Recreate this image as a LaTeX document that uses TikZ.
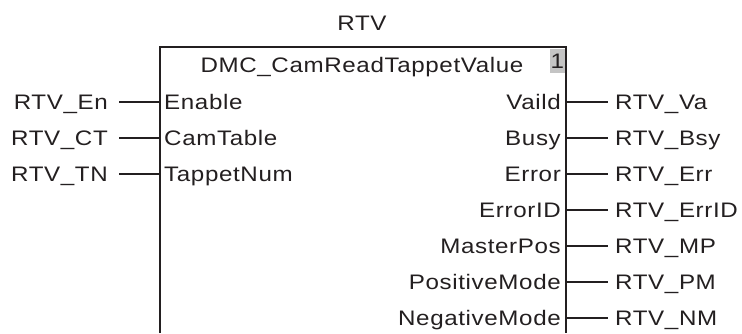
\documentclass[tikz,border=0pt]{standalone}
\usepackage{fontspec}
\setmainfont{Liberation Sans}[FakeStretch=1.15, LetterSpace=3]
\definecolor{ink}{HTML}{231F20}
\definecolor{tag}{HTML}{C4C4C4}
\begin{document}
\begin{tikzpicture}[x=1pt,y=-1pt,
  font=\fontsize{21}{25}\selectfont,
  txt/.style={inner sep=0pt, text=ink},
  wire/.style={line width=1.3pt, draw=ink},
  frame/.style={line width=1.6pt, draw=ink}]
\useasboundingbox (0,0) rectangle (742,333);
% title
\node[txt, anchor=base] (title) at (362,30) {RTV};
% block frame (open at bottom)
\coordinate (bl) at (160,333);
\coordinate (tl) at (160,47);
\coordinate (tr) at (566,47);
\coordinate (br) at (566,333);
\draw[frame] (bl) -- (tl) -- (tr) -- (br);
\node[txt, fill=tag, minimum width=15pt, minimum height=24pt, anchor=north east] (inst) at (565,49) {1};
\node[txt, anchor=base] (fb) at (362,72.7) {DMC\_CamReadTappetValue};
% inputs
\foreach \i/\p/\v in {0/Enable/RTV\_En, 1/CamTable/RTV\_CT, 2/TappetNum/RTV\_TN}{
  \pgfmathsetmacro\yy{102+36*\i}
  \coordinate (L\i) at (160,\yy);
  \node[txt, anchor=base west] (pin\i) at (164,\yy+7.5) {\p};
  \node[txt, anchor=base east] (var\i) at (108,\yy+7.5) {\v};
  \draw[wire] ([xshift=11pt]var\i.east |- L\i) -- (L\i);
}
% outputs
\foreach \i/\p/\v in {0/Vaild/RTV\_Va, 1/Busy/RTV\_Bsy, 2/Error/RTV\_Err, 3/ErrorID/RTV\_ErrID, 4/MasterPos/RTV\_MP, 5/PositiveMode/RTV\_PM, 6/NegativeMode/RTV\_NM}{
  \pgfmathsetmacro\yy{102+36*\i}
  \coordinate (R\i) at (566,\yy);
  \node[txt, anchor=base east] (pout\i) at (561,\yy+7.5) {\p};
  \node[txt, anchor=base west] (vout\i) at (615,\yy+7.5) {\v};
  \draw[wire] (R\i) -- ([xshift=-7pt]vout\i.west |- R\i);
}
\end{tikzpicture}
\end{document}
